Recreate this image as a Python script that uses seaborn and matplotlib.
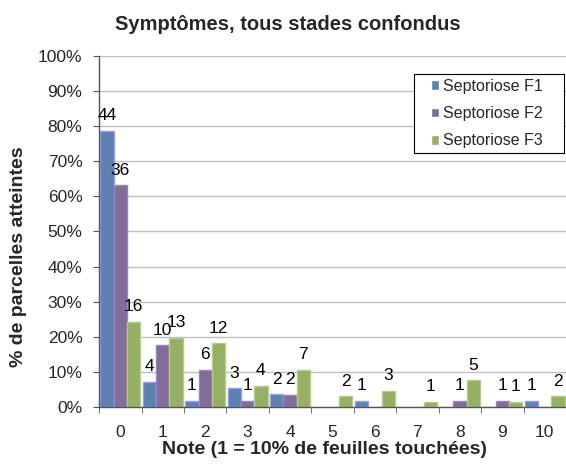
import matplotlib
matplotlib.use("Agg")
import matplotlib.pyplot as plt
import pandas as pd
import seaborn as sns
from matplotlib.patches import Rectangle
from matplotlib.ticker import FixedLocator, PercentFormatter

notes = list(range(11))
series = ["Septoriose F1", "Septoriose F2", "Septoriose F3"]
counts_f1 = [44, 4, 1, 3, 2, 0, 1, 0, 0, 0, 1]
counts_f2 = [36, 10, 6, 1, 2, 0, 0, 0, 1, 1, 0]
counts_f3 = [16, 13, 12, 4, 7, 2, 3, 1, 5, 1, 2]
colors = ["#4F81BD", "#8064A2", "#9BBB59"]
edges = ["#9999FF", "#9A86BC", "#B5CE85"]

rows = []
for name, cnt in zip(series, [counts_f1, counts_f2, counts_f3]):
    total = sum(cnt)
    for n, c in zip(notes, cnt):
        rows.append({"note": n, "serie": name, "count": c, "pct": 100 * c / total})
df = pd.DataFrame(rows)

sns.set_style("white")
plt.rcParams["font.family"] = ["Liberation Sans", "DejaVu Sans"]

fig = plt.figure(figsize=(5.66, 4.66), dpi=100)
ax = fig.add_axes([0.175, 0.1266, 0.825, 0.7536])

sns.barplot(
    data=df,
    x="note",
    y="pct",
    hue="serie",
    hue_order=series,
    order=notes,
    palette=dict(zip(series, colors)),
    width=0.94,
    gap=0,
    errorbar=None,
    ax=ax,
)

for cont, name, ec in zip(ax.containers, series, edges):
    cnt = list(df[df["serie"] == name]["count"])
    for bar, c in zip(cont, cnt):
        bar.set_edgecolor(ec)
        bar.set_linewidth(1 if c > 0 else 0)
    labs = [str(c) if c > 0 else "" for c in cnt]
    ax.bar_label(cont, labels=labs, padding=5.5, fontsize=12.5, color="black")

ax.set_xlim(-0.5, 10.5)
ax.set_ylim(0, 100)
ax.set_yticks(range(0, 101, 10))
ax.yaxis.set_major_formatter(PercentFormatter(decimals=0))
ax.yaxis.grid(True, color="#C0C0C0", linewidth=1)
ax.set_axisbelow(True)

ax.xaxis.set_minor_locator(FixedLocator([i - 0.5 for i in range(12)]))
ax.tick_params(axis="x", which="major", length=0, labelsize=12.5, pad=13)
ax.tick_params(axis="x", which="minor", length=4, color="#555555", direction="out", bottom=True)
ax.tick_params(axis="y", length=4, color="#555555", direction="out", left=True, labelsize=12.5, pad=8)

for s in ["top", "right"]:
    ax.spines[s].set_visible(False)
for s in ["left", "bottom"]:
    ax.spines[s].set_color("#555555")
    ax.spines[s].set_linewidth(1)

ax.set_xlabel("Note (1 = 10% de feuilles touchées)", fontsize=14, fontweight="bold")
ax.xaxis.set_label_coords(0.482, -0.097)
ax.set_ylabel("% de parcelles atteintes", fontsize=14, fontweight="bold")
ax.yaxis.set_label_coords(-0.154, 0.427)
fig.text(0.509, 0.948, "Symptômes, tous stades confondus",
         ha="center", va="center", fontsize=14.5, fontweight="bold")

leg = ax.legend(
    loc="upper right",
    bbox_to_anchor=(0.9615, 0.9487),
    borderaxespad=0,
    fontsize=11.5,
    frameon=False,
    handlelength=0.55,
    handleheight=0.55,
    handletextpad=0.25,
    borderpad=0.31,
    labelspacing=0.77,
    title=None,
)
leg.set_zorder(6)

# wider legend frame than matplotlib's, like the original box
fig.canvas.draw()
bb = leg.get_window_extent().transformed(ax.transAxes.inverted())
px = 1 / (ax.bbox.width)
box = Rectangle((bb.x0 - 12 * px, bb.y0), bb.width + 28 * px, bb.height,
                transform=ax.transAxes, facecolor="white", edgecolor="black",
                linewidth=0.8, zorder=5, clip_on=False)
ax.add_artist(box)

fig.savefig("out.png", dpi=100)
